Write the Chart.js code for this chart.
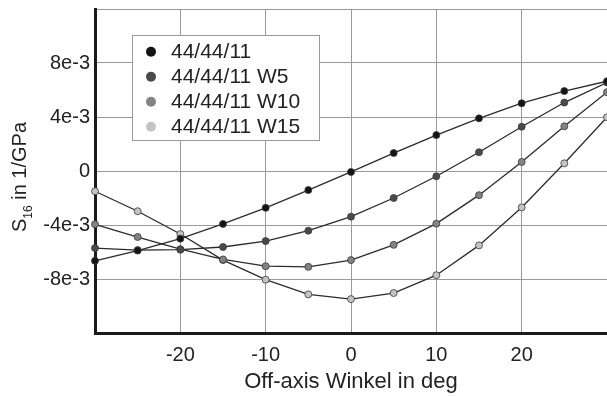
<!DOCTYPE html>
<html>
<head>
<meta charset="utf-8">
<script src="https://cdn.jsdelivr.net/npm/chart.js@4/dist/chart.umd.min.js"></script>
<style>
html, body { margin: 0; padding: 0; background: #fff; }
#wrap { width: 607px; height: 396px; position: relative; }
</style>
</head>
<body>
<div id="wrap"><canvas id="chart"></canvas></div>
<script>
// off-axis angle in deg
var angles = [-30, -25, -20, -15, -10, -5, 0, 5, 10, 15, 20, 25, 30];
// S16 values in 1e-3 1/GPa
var s16 = [-6.65, -5.89, -5.01, -3.92, -2.73, -1.41, -0.07, 1.33, 2.66, 3.90, 5.02, 5.92, 6.65];
var s16W5 = [-5.71, -5.86, -5.83, -5.63, -5.19, -4.42, -3.38, -2.00, -0.39, 1.39, 3.28, 5.07, 6.55];
var s16W10 = [-3.95, -4.89, -5.79, -6.55, -7.05, -7.10, -6.60, -5.47, -3.90, -1.79, 0.67, 3.31, 5.84];
var s16W15 = [-1.50, -2.98, -4.67, -6.60, -8.05, -9.14, -9.49, -9.04, -7.72, -5.51, -2.70, 0.57, 3.98];
var seriesNames = ['44/44/11', '44/44/11 W5', '44/44/11 W10', '44/44/11 W15'];
var pointColors = ['#141414', '#4a4a4a', '#838383', '#c4c4c4'];

var xTickValues = [-20, -10, 0, 10, 20];
var xTickLabels = ['-20', '-10', '0', '10', '20'];
var yTickValues = [-8, -4, 0, 4, 8];
var yTickLabels = ['-8e-3', '-4e-3', '0', '4e-3', '8e-3'];

var FONT = '"Liberation Sans", Arial, sans-serif';

function pairs(ys) {
  return ys.map(function (v, i) { return { x: angles[i], y: v }; });
}

function tickText(values, labels) {
  return function (value) {
    for (var i = 0; i < values.length; i++) {
      if (Math.abs(values[i] - value) < 1e-6) return labels[i];
    }
    return '';
  };
}

var allSeries = [s16, s16W5, s16W10, s16W15];
var datasets = allSeries.map(function (ys, i) {
  return {
    label: seriesNames[i],
    data: pairs(ys),
    borderColor: '#2b2b2b',
    borderWidth: 1.3,
    pointBackgroundColor: pointColors[i],
    pointBorderColor: '#3a3a3a',
    pointBorderWidth: 0.8,
    pointRadius: 3.5,
    tension: 0,
    clip: false
  };
});

// legend drawn as a box inside the plot
var boxLegend = {
  id: 'boxLegend',
  afterDatasetsDraw: function (chart) {
    var ctx = chart.ctx;
    ctx.save();
    ctx.fillStyle = '#fff';
    ctx.fillRect(132.5, 35.5, 187, 105);
    ctx.strokeStyle = '#9a9a9a';
    ctx.lineWidth = 1;
    ctx.strokeRect(132.5, 35.5, 187, 105);
    ctx.font = '21px ' + FONT;
    ctx.textBaseline = 'middle';
    chart.data.datasets.forEach(function (ds, i) {
      var y = 51.7 + i * 25;
      ctx.beginPath();
      ctx.arc(151, y, 5, 0, Math.PI * 2);
      ctx.fillStyle = ds.pointBackgroundColor;
      ctx.fill();
      ctx.fillStyle = '#222';
      ctx.fillText(ds.label, 171, y + 1);
    });
    ctx.restore();
  }
};

// y title with subscript
var yTitle = {
  id: 'yTitle',
  afterDraw: function (chart) {
    var ctx = chart.ctx;
    ctx.save();
    ctx.translate(19, 232);
    ctx.rotate(-Math.PI / 2);
    ctx.fillStyle = '#222';
    ctx.textBaseline = 'alphabetic';
    ctx.font = '20px ' + FONT;
    ctx.fillText('S', 0, 7);
    var w = ctx.measureText('S').width;
    ctx.font = '12px ' + FONT;
    ctx.fillText('16', w, 13);
    w += ctx.measureText('16').width;
    ctx.font = '20px ' + FONT;
    ctx.fillText(' in 1/GPa', w, 7);
    ctx.restore();
  }
};

var ctx = document.getElementById('chart');
var mychart = new Chart(ctx, {
  type: 'line',
  data: { datasets: datasets },
  plugins: [boxLegend, yTitle],
  options: {
    responsive: true,
    maintainAspectRatio: false,
    animation: false,
    layout: { autoPadding: false, padding: { top: 9, right: 0, left: 0, bottom: 0 } },
    plugins: {
      legend: { display: false },
      tooltip: { enabled: false }
    },
    scales: {
      x: {
        type: 'linear',
        min: -30,
        max: 30,
        afterFit: function (s) {
          s.height = 63;
          s.paddingLeft = 0;
          s.paddingRight = 0;
        },
        ticks: {
          stepSize: 10,
          autoSkip: false,
          maxRotation: 0,
          padding: 10,
          color: '#222',
          font: { family: FONT, size: 20 },
          callback: tickText(xTickValues, xTickLabels)
        },
        grid: { color: '#9a9a9a', lineWidth: 1, drawTicks: false },
        border: { color: '#1a1a1a', width: 3 },
        title: {
          display: true,
          text: 'Off-axis Winkel in deg',
          color: '#222',
          font: { family: FONT, size: 22 },
          padding: { top: 0, bottom: 1 }
        }
      },
      y: {
        min: -12,
        max: 12,
        afterFit: function (s) {
          s.width = 95;
          s.paddingTop = 0;
          s.paddingBottom = 0;
        },
        ticks: {
          stepSize: 4,
          padding: 5,
          color: '#222',
          font: { family: FONT, size: 20 },
          callback: tickText(yTickValues, yTickLabels)
        },
        grid: { color: '#9a9a9a', lineWidth: 1, drawTicks: false },
        border: { color: '#1a1a1a', width: 3 }
      }
    }
  }
});
</script>
</body>
</html>
